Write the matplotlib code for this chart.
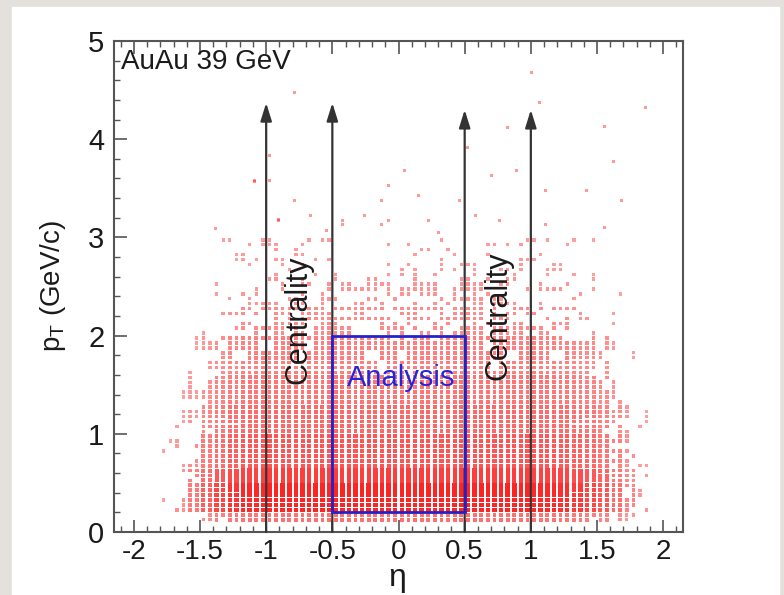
import matplotlib
matplotlib.use("Agg")
import matplotlib.pyplot as plt
from matplotlib.patches import Rectangle
from matplotlib.ticker import MultipleLocator
import numpy as np

plt.rcParams['font.family'] = ['Liberation Sans', 'DejaVu Sans']
plt.rcParams['mathtext.fontset'] = 'custom'
plt.rcParams['mathtext.rm'] = 'Liberation Sans'
plt.rcParams['mathtext.it'] = 'Liberation Sans:italic'

# track density (0 = empty, 1 = saturated), coarse cells in eta x pT
eta_edges = [-2.0, -1.8, -1.7, -1.6, -1.5, -1.4, -1.3, -1.2, -1.0, -0.5, 0.0,
             0.5, 1.0, 1.2, 1.3, 1.4, 1.5, 1.6, 1.7, 1.8, 1.9, 2.0]
pt_edges = [0.1, 0.2, 0.5, 0.65, 1.0, 1.3, 1.6, 2.0, 2.3, 2.6, 3.0]
density = [
    [0, .02, .06, .12, .20, .28, .34, .38, .40, .40, .40, .40, .38, .36, .34, .30, .25, .18, .10, .04, 0],
    [0, .04, .15, .35, .55, .75, .88, .97, 1.0, 1.0, 1.0, 1.0, .97, .92, .85, .75, .62, .45, .25, .10, .02],
    [0, .03, .12, .28, .45, .60, .70, .77, .80, .80, .80, .80, .77, .73, .68, .60, .50, .36, .20, .08, .02],
    [0, .02, .08, .20, .33, .45, .54, .60, .62, .62, .62, .62, .60, .57, .53, .47, .38, .28, .15, .06, .01],
    [0, .01, .05, .13, .24, .34, .42, .46, .48, .48, .48, .48, .46, .44, .41, .36, .29, .20, .11, .04, .01],
    [0, 0, .03, .09, .17, .26, .32, .36, .38, .38, .38, .38, .36, .34, .31, .27, .21, .14, .07, .03, .01],
    [0, 0, .01, .05, .11, .18, .24, .28, .30, .30, .30, .30, .28, .26, .23, .20, .15, .09, .05, .02, .01],
    [0, 0, 0, .02, .05, .10, .15, .18, .20, .20, .20, .20, .18, .16, .14, .12, .08, .05, .02, .01, 0],
    [0, 0, 0, .01, .02, .05, .08, .11, .13, .13, .13, .13, .12, .10, .08, .06, .04, .02, .01, 0, 0],
    [0, 0, 0, 0, .01, .02, .04, .06, .07, .07, .07, .07, .06, .05, .04, .03, .02, .01, 0, 0, 0],
]

# isolated high-pT tracks
out_eta = [-0.79, 1.00, 1.06, 0.82, 0.52, -0.98, -1.09, -0.98, 0.04, -0.08, 0.70, 0.89,
           1.11, -0.79, 0.15, -0.13, 0.46, -0.67, -0.26, 0.58, -0.91, -0.43, -0.08, 0.22,
           0.76, 1.11, -0.43, -0.13, 1.86, 1.55, 1.62, 1.42, 1.68, 1.55, -1.39, -1.09,
           -0.91, 0.30, -0.55]
out_pt = [4.48, 4.68, 4.38, 4.12, 3.92, 3.84, 3.58, 3.58, 3.69, 3.53, 3.64, 3.69,
          3.48, 3.38, 3.43, 3.38, 3.38, 3.23, 3.23, 3.23, 3.18, 3.18, 3.18, 3.18,
          3.18, 3.14, 3.14, 3.14, 4.33, 4.13, 3.78, 3.48, 3.38, 3.11, 3.10, 3.57,
          3.19, 3.05, 3.08]

arrow_eta = [-1.0, -0.5, 0.5, 1.0]
arrow_top = [4.37, 4.37, 4.30, 4.30]
box_eta = (-0.5, 0.5)
box_pt = (0.2, 2.0)

# fill the 0.05 x 0.05 bins of each cell, dithered with a fixed integer hash
bin_w = 0.05
xs, ys, sizes, cols = [], [], [], []
for r in range(len(pt_edges) - 1):
    for c in range(len(eta_edges) - 1):
        d = density[r][c]
        if d <= 0:
            continue
        occ = min(1.0, 3.0 * d)
        for x in np.arange(eta_edges[c] + bin_w / 2, eta_edges[c + 1] - 1e-6, bin_w):
            for y in np.arange(pt_edges[r] + bin_w / 2, pt_edges[r + 1] - 1e-6, bin_w):
                i = int(round(x / bin_w)) + 100; j = int(round(y / bin_w))
                h = (((i * 73856093) ^ (j * 19349663)) % 1009) / 1009.0
                if h < occ:
                    xs.append(x); ys.append(y)
                    sizes.append((3.3 + 1.3 * d) * 0.72)
                    cols.append((1.0, 0.0, 0.0, 0.36 + 0.5 * d))

fig = plt.figure(figsize=(7.84, 5.95), dpi=100, facecolor='#e4e1dc')
fig.patches.append(Rectangle((12 / 784, 0), 767 / 784, 588 / 595,
                             transform=fig.transFigure, color='white', zorder=-5))
ax = fig.add_axes([0.1454, 0.1059, 0.7258, 0.8252])

ax.scatter(xs, ys, s=np.array(sizes) ** 2, c=cols, marker='s', linewidths=0, zorder=1)
ax.scatter(out_eta, out_pt, s=(3.0 * 0.72) ** 2, c=[(1, 0, 0, 0.4)], marker='s',
           linewidths=0, zorder=1)

for x, top in zip(arrow_eta, arrow_top):
    ax.annotate('', xy=(x, top), xytext=(x, 0),
                arrowprops=dict(arrowstyle='-|>,head_length=0.9,head_width=0.28',
                                mutation_scale=12, lw=1.6, color='#333333',
                                shrinkA=0, shrinkB=0), zorder=3)

ax.add_patch(Rectangle((box_eta[0], box_pt[0]), box_eta[1] - box_eta[0],
                       box_pt[1] - box_pt[0], fill=False, ec='#2222cc', lw=2, zorder=4))

ax.text(-0.757, 2.16, 'Centrality', rotation=90, fontsize=22, ha='center', va='center',
        color='#1a1a1a')
ax.text(0.757, 2.20, 'Centrality', rotation=90, fontsize=22, ha='center', va='center',
        color='#1a1a1a')
ax.text(0.02, 1.57, 'Analysis', fontsize=21, color='#2525dd', ha='center', va='center')
ax.text(-2.10, 4.79, 'AuAu 39 GeV', fontsize=20, ha='left', va='center', color='#1a1a1a')

ax.set_xlim(-2.15, 2.15)
ax.set_ylim(0, 5)
ax.xaxis.set_minor_locator(MultipleLocator(0.1))
ax.yaxis.set_major_locator(MultipleLocator(1))
ax.yaxis.set_minor_locator(MultipleLocator(0.2))
ax.set_xticks([-2, -1.5, -1, -0.5, 0, 0.5, 1, 1.5, 2])
ax.set_xticklabels(['-2', '-1.5', '-1', '-0.5', '0', '0.5', '1', '1.5', '2'])
ax.tick_params(which='both', direction='in', top=True, right=False, color='#555555',
               labelcolor='#1a1a1a')
ax.tick_params(which='major', length=9, width=1.2)
ax.tick_params(which='minor', length=4.5, width=1.0)
ax.tick_params(axis='x', labelsize=20, pad=5)
ax.tick_params(axis='y', labelsize=21, pad=7)
for sp in ax.spines.values():
    sp.set_color('#555555')
    sp.set_linewidth(1.5)

fig.text(0.068, 0.519, r'$\mathrm{p_{T}}$ (GeV/c)', rotation=90, fontsize=20,
         ha='center', va='center', color='#1a1a1a')
fig.text(0.507, 0.029, 'η', fontsize=23, ha='center', va='center', color='#1a1a1a')

fig.savefig('out.png', dpi=100, facecolor=fig.get_facecolor())
